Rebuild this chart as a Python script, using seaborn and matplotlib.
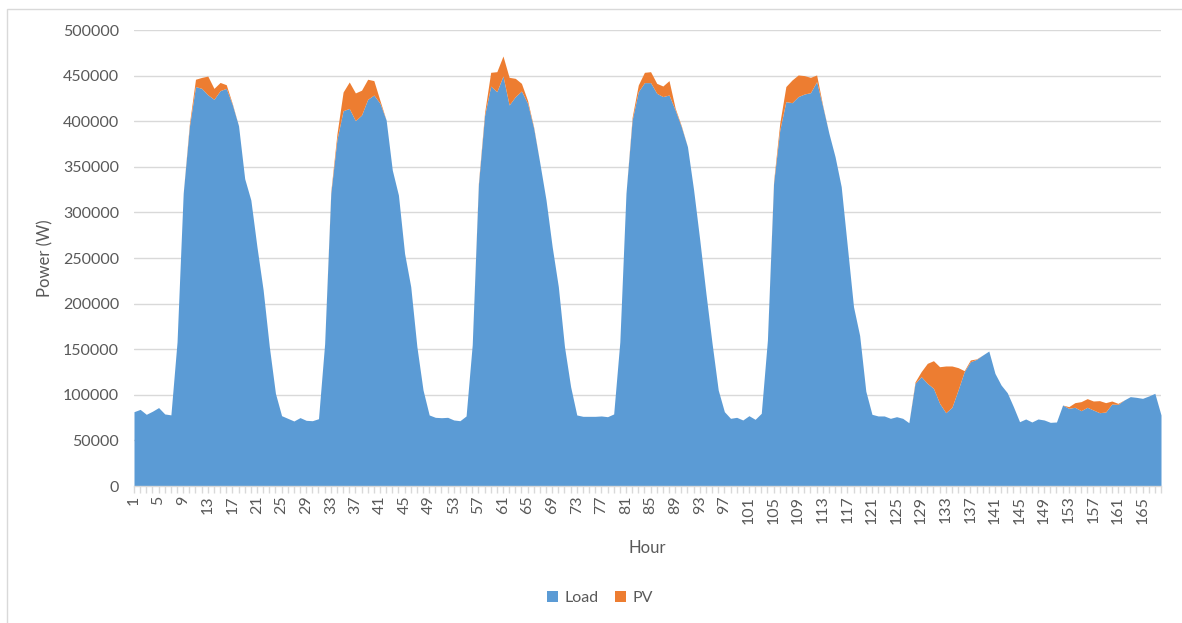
import numpy as np
import pandas as pd
import matplotlib
matplotlib.use("Agg")
import matplotlib.pyplot as plt
from matplotlib.patches import Rectangle
from matplotlib.ticker import MultipleLocator, FixedLocator
import seaborn as sns

# Hourly load demand (W), one week
load = [
    81500, 84000, 78600, 82000, 86000, 79000, 78000, 158000, 321000, 394000,
    438000, 436000, 429000, 424000, 433500, 436000, 418000, 395000, 337000, 313600,
    262000, 215000, 153000, 101600, 77100, 74200, 71300, 75000, 72000, 71600,
    73800, 156000, 321000, 380000, 411500, 414000, 400600, 406800, 424000, 428700,
    419600, 401300, 346500, 319000, 255000, 218600, 152800, 105300, 77900, 75300,
    74900, 75300, 72400, 71600, 76800, 155000, 330000, 406000, 438500, 432400,
    449600, 417800, 426900, 433100, 419600, 392200, 353800, 313600, 262400, 218600,
    152800, 108900, 77900, 76400, 76400, 76400, 76800, 76000, 79000, 158000,
    321000, 401300, 432400, 442300, 442300, 430600, 427000, 428700, 412300, 394000,
    372000, 324600, 269700, 211300, 156400, 105300, 81500, 74200, 75300, 72400,
    77100, 73100, 79700, 160000, 332000, 390000, 421500, 420300, 427000, 429800,
    431300, 443400, 416000, 386700, 361100, 328200, 262400, 196600, 165000, 104000,
    78600, 76800, 76800, 74200, 76000, 74200, 69400, 112600, 119900, 112600,
    107100, 90600, 80400, 86300, 105300, 125400, 136300, 138900, 143600, 148000,
    123500, 110700, 102300, 87000, 70500, 73500, 70200, 73500, 72400, 69800,
    70200, 88800, 85200, 86300, 82600, 86300, 83300, 80400, 81100, 89900,
    89500, 94300, 98000, 97200, 96100, 98700, 101600, 77900,
]

# Hourly PV generation (W), stacked on top of the load
pv = [0] * 168
pv_hours = {
    10: 3000, 11: 8000, 12: 12000, 13: 20500, 14: 12000, 15: 9000, 16: 4000, 17: 1000,
    33: 2000, 34: 6000, 35: 20500, 36: 29000, 37: 30400, 38: 27200, 39: 22000, 40: 15800, 41: 3000,
    57: 2000, 58: 3000, 59: 15100, 60: 21900, 61: 21900, 62: 30300, 63: 20100, 64: 8400, 65: 3000, 66: 1000,
    82: 3000, 83: 7300, 84: 11300, 85: 12000, 86: 10900, 87: 11600, 88: 15800, 89: 2000, 90: 1000,
    105: 2000, 106: 7500, 107: 16500, 108: 24900, 109: 23700, 110: 20200, 111: 16800, 112: 7300, 113: 1000,
    128: 1500, 129: 5500, 130: 21900, 131: 30300, 132: 40200, 133: 51200, 134: 45300, 135: 24500,
    136: 1100, 137: 1900, 138: 500,
    153: 1800, 154: 5100, 155: 9900, 156: 9500, 157: 9900, 158: 13200, 159: 10300, 160: 3300, 161: 1100,
}
for h, v in pv_hours.items():
    pv[h - 1] = v

hours = list(range(1, 169))
tick_labels = [str(h) for h in range(1, 169, 4)]

df = pd.DataFrame({"Hour": hours, "Load": load, "PV": pv})

sns.set_theme(style="white")
plt.rcParams["font.family"] = ["Lato", "DejaVu Sans"]

text_color = "#595959"
grid_color = "#D9D9D9"
load_color = "#5B9BD5"
pv_color = "#ED7D31"

fig = plt.figure(figsize=(11.82, 6.23), dpi=100)
ax = fig.add_axes([134 / 1182, 1 - 486 / 623, (1161 - 134) / 1182, (486 - 30) / 623])

ax.stackplot(df["Hour"], df["Load"], df["PV"],
             colors=[load_color, pv_color], labels=["Load", "PV"], linewidth=0)

ax.set_xlim(1, 168)
ax.set_ylim(0, 500000)
ax.yaxis.set_major_locator(MultipleLocator(50000))
ax.yaxis.set_major_formatter(matplotlib.ticker.FuncFormatter(lambda v, p: f"{int(v)}"))
ax.xaxis.set_major_locator(FixedLocator(list(range(1, 169, 4))))
ax.set_xticklabels(tick_labels, rotation=90)
ax.xaxis.set_minor_locator(FixedLocator(hours))

ax.grid(axis="y", color=grid_color, linewidth=1)
ax.set_axisbelow(True)
sns.despine(ax=ax, left=True, top=True, right=True)
ax.spines["bottom"].set_color(grid_color)
ax.spines["bottom"].set_linewidth(1)

ax.tick_params(axis="y", length=0, pad=10.8, labelsize=11.5, labelcolor=text_color)
ax.tick_params(axis="x", which="both", direction="out", length=5, width=1,
               color=grid_color, labelsize=11.5, labelcolor=text_color, pad=2, bottom=True)

ax.set_xlabel("Hour", fontsize=12, color=text_color, labelpad=12)
ax.set_ylabel("Power (W)", fontsize=12, color=text_color, labelpad=7)

handles, labels = ax.get_legend_handles_labels()
leg = fig.legend(handles, labels, loc="center", bbox_to_anchor=(600 / 1182, 1 - 598 / 623),
                 ncol=2, frameon=False, fontsize=11.5, handlelength=0.7, handleheight=0.7,
                 handletextpad=0.4, columnspacing=1.0)
for t in leg.get_texts():
    t.set_color(text_color)

# chart-area outline (only its top and left edges fall inside the canvas)
fig.patches.append(Rectangle((7 / 1182, -0.05), 1.2, (1 - 9 / 623) + 0.05,
                             transform=fig.transFigure, fill=False,
                             edgecolor=grid_color, linewidth=1))

fig.savefig("out.png", dpi=100, facecolor="white")
